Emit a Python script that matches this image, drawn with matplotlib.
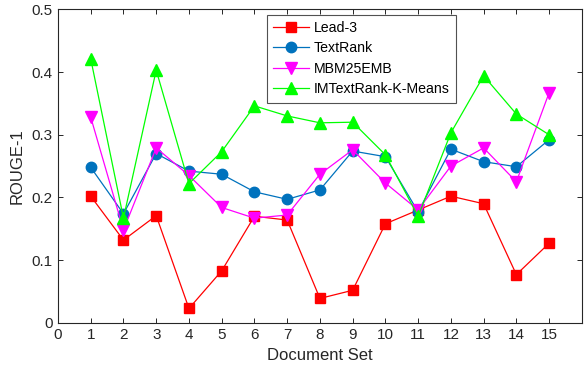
import matplotlib
matplotlib.use("Agg")
import matplotlib.pyplot as plt

plt.rcParams['font.family'] = ['Liberation Sans', 'DejaVu Sans']

doc_sets = list(range(1, 16))
lead3 = [0.202, 0.132, 0.171, 0.023, 0.083, 0.170, 0.164, 0.039, 0.052, 0.158, 0.180, 0.202, 0.190, 0.077, 0.127]
textrank = [0.248, 0.174, 0.270, 0.242, 0.237, 0.209, 0.197, 0.212, 0.274, 0.265, 0.177, 0.277, 0.257, 0.249, 0.292]
mbm25emb = [0.328, 0.148, 0.279, 0.235, 0.184, 0.167, 0.172, 0.237, 0.276, 0.223, 0.180, 0.250, 0.279, 0.225, 0.367]
imtextrank = [0.421, 0.167, 0.403, 0.222, 0.273, 0.346, 0.330, 0.319, 0.320, 0.268, 0.170, 0.303, 0.394, 0.333, 0.300]
x_ticks = list(range(0, 16))
y_ticks = [0, 0.1, 0.2, 0.3, 0.4, 0.5]
y_labels = ['0', '0.1', '0.2', '0.3', '0.4', '0.5']

fig = plt.figure(figsize=(5.84, 3.72), dpi=100)
ax = fig.add_axes([0.0993, 0.132, 0.897, 0.843])

ax.plot(doc_sets, lead3, color='#FF0000', marker='s', markersize=6.5, lw=0.9, label='Lead-3')
ax.plot(doc_sets, textrank, color='#0072BD', marker='o', markersize=7.5, lw=0.9, label='TextRank')
ax.plot(doc_sets, mbm25emb, color='#FF00FF', marker='v', markersize=9, lw=0.9, label='MBM25EMB')
ax.plot(doc_sets, imtextrank, color='#00FF00', marker='^', markersize=9, lw=0.9, label='IMTextRank-K-Means')

ax.set_xlim(0, 16)
ax.set_ylim(0, 0.5)
ax.set_xticks(x_ticks)
ax.set_yticks(y_ticks)
ax.set_yticklabels(y_labels)
ax.tick_params(direction='in', top=True, right=True, labelsize=11, length=3.5, width=0.7,
               colors='#262626', labelcolor='#262626', pad=4)
for s in ax.spines.values():
    s.set_color('#262626')
    s.set_linewidth(0.8)
ax.set_xlabel('Document Set', fontsize=12, color='#262626', labelpad=4)
ax.set_ylabel('ROUGE-1', fontsize=12, color='#262626', labelpad=5)

leg = ax.legend(loc='upper left', bbox_to_anchor=(0.3985, 0.983), fontsize=10.2, frameon=True,
                fancybox=False, edgecolor='#262626', handlelength=2.5, handletextpad=0.35,
                borderpad=0.45, labelspacing=0.45, borderaxespad=0)
leg.get_frame().set_linewidth(0.8)

fig.savefig('out.png', dpi=100)
